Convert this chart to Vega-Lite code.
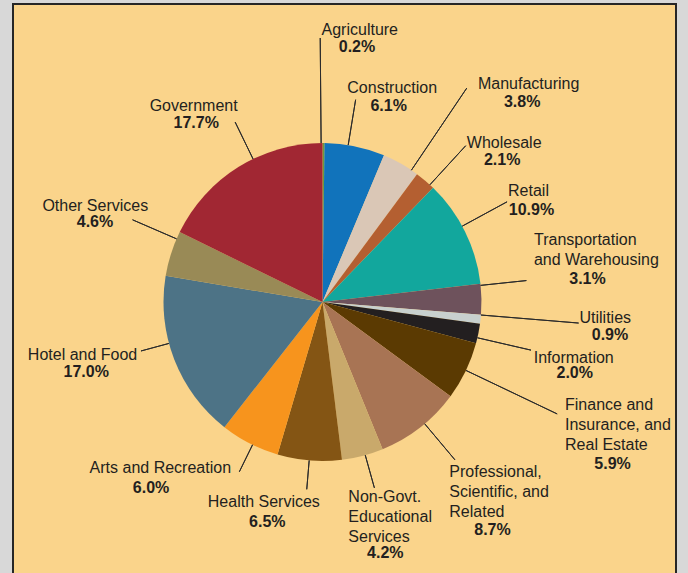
{
  "$schema": "https://vega.github.io/schema/vega-lite/v6.json",
  "width": 663,
  "height": 572,
  "autosize": {"type": "none"},
  "padding": {"left": 13, "top": 4, "right": 12, "bottom": -3},
  "background": "#D8D8D8",
  "view": {"fill": "#FAD48B", "stroke": "#262626", "strokeWidth": 2},
  "config": {
    "view": {"fill": "#FAD48B", "stroke": "#262626", "strokeWidth": 2},
    "text": {"font": "Liberation Sans", "fontSize": 16, "color": "#231F20", "baseline": "alphabetic", "lineBreak": "\n", "lineHeight": 20}
  },
  "data": {
    "values": [
      {"idx": 1, "sector": "Agriculture", "value": 0.2},
      {"idx": 2, "sector": "Construction", "value": 6.1},
      {"idx": 3, "sector": "Manufacturing", "value": 3.8},
      {"idx": 4, "sector": "Wholesale", "value": 2.1},
      {"idx": 5, "sector": "Retail", "value": 10.9},
      {"idx": 6, "sector": "Transportation\nand Warehousing", "value": 3.1},
      {"idx": 7, "sector": "Utilities", "value": 0.9},
      {"idx": 8, "sector": "Information", "value": 2.0},
      {"idx": 9, "sector": "Finance and\nInsurance, and\nReal Estate", "value": 5.9},
      {"idx": 10, "sector": "Professional,\nScientific, and\nRelated", "value": 8.7},
      {"idx": 11, "sector": "Non-Govt.\nEducational\nServices", "value": 4.2},
      {"idx": 12, "sector": "Health Services", "value": 6.5},
      {"idx": 13, "sector": "Arts and Recreation", "value": 6.0},
      {"idx": 14, "sector": "Hotel and Food", "value": 17.0},
      {"idx": 15, "sector": "Other Services", "value": 4.6},
      {"idx": 16, "sector": "Government", "value": 17.7}
    ]
  },
  "transform": [
    {"window": [{"op": "sum", "field": "value", "as": "cum"}], "sort": [{"field": "idx", "order": "ascending"}], "frame": [null, 0]},
    {"calculate": "datum.cum - datum.value / 2", "as": "mid"},
    {"calculate": "format(datum.value, '.1f') + '%'", "as": "pct"}
  ],
  "layer": [
    {
      "mark": {"type": "arc", "x": 309.5, "y": 298, "radius": 159, "stroke": null},
      "encoding": {
        "theta": {"field": "value", "type": "quantitative", "stack": true},
        "order": {"field": "idx", "type": "quantitative"},
        "color": {
          "field": "sector", "type": "nominal", "legend": null,
          "scale": {
            "domain": ["Agriculture", "Construction", "Manufacturing", "Wholesale", "Retail", "Transportation\nand Warehousing", "Utilities", "Information", "Finance and\nInsurance, and\nReal Estate", "Professional,\nScientific, and\nRelated", "Non-Govt.\nEducational\nServices", "Health Services", "Arts and Recreation", "Hotel and Food", "Other Services", "Government"],
            "range": ["#6E9A3C", "#1173BB", "#DAC7B6", "#B45F31", "#12A79D", "#6E525C", "#C8D0CE", "#231F20", "#5B3A02", "#A87454", "#C9A96B", "#845514", "#F7941D", "#4D7386", "#998A56", "#A12733"]
          }
        }
      }
    },
    {"transform": [{"filter": "datum.idx === 1"}], "layer": [
      {"mark": {"type": "arc", "x": 309.5, "y": 298, "radius": 264, "radius2": 159, "thetaOffset": -0.015, "theta2Offset": -0.015, "filled": false, "stroke": "#2B2B2B", "strokeWidth": 1}, "encoding": {"theta": {"field": "mid", "type": "quantitative", "stack": false}, "theta2": {"field": "mid"}}},
      {"mark": {"type": "text", "x": 309.5, "y": 298, "radius": 264, "align": "center", "dx": 35.6, "dy": -2.8}, "encoding": {"theta": {"field": "mid", "type": "quantitative", "stack": false}, "text": {"field": "sector"}}},
      {"mark": {"type": "text", "x": 309.5, "y": 298, "radius": 264, "align": "center", "dx": 32.8, "dy": 14.0, "fontWeight": "bold"}, "encoding": {"theta": {"field": "mid", "type": "quantitative", "stack": false}, "text": {"field": "pct"}}}
    ]},
    {"transform": [{"filter": "datum.idx === 2"}], "layer": [
      {"mark": {"type": "arc", "x": 309.5, "y": 298, "radius": 205, "radius2": 159, "thetaOffset": -0.0425, "theta2Offset": -0.0425, "filled": false, "stroke": "#2B2B2B", "strokeWidth": 1}, "encoding": {"theta": {"field": "mid", "type": "quantitative", "stack": false}, "theta2": {"field": "mid"}}},
      {"mark": {"type": "text", "x": 309.5, "y": 298, "radius": 205, "align": "center", "dx": 28.0, "dy": -8.3}, "encoding": {"theta": {"field": "mid", "type": "quantitative", "stack": false}, "text": {"field": "sector"}}},
      {"mark": {"type": "text", "x": 309.5, "y": 298, "radius": 205, "align": "center", "dx": 24.5, "dy": 9.4, "fontWeight": "bold"}, "encoding": {"theta": {"field": "mid", "type": "quantitative", "stack": false}, "text": {"field": "pct"}}}
    ]},
    {"transform": [{"filter": "datum.idx === 3"}], "layer": [
      {"mark": {"type": "arc", "x": 309.5, "y": 298, "radius": 258, "radius2": 159, "thetaOffset": 0.0766, "theta2Offset": 0.0766, "filled": false, "stroke": "#2B2B2B", "strokeWidth": 1}, "encoding": {"theta": {"field": "mid", "type": "quantitative", "stack": false}, "theta2": {"field": "mid"}}},
      {"mark": {"type": "text", "x": 309.5, "y": 298, "radius": 258, "align": "center", "dx": 78.7, "dy": 11.6}, "encoding": {"theta": {"field": "mid", "type": "quantitative", "stack": false}, "text": {"field": "sector"}}},
      {"mark": {"type": "text", "x": 309.5, "y": 298, "radius": 258, "align": "center", "dx": 72.2, "dy": 29.0, "fontWeight": "bold"}, "encoding": {"theta": {"field": "mid", "type": "quantitative", "stack": false}, "text": {"field": "pct"}}}
    ]},
    {"transform": [{"filter": "datum.idx === 4"}], "layer": [
      {"mark": {"type": "arc", "x": 309.5, "y": 298, "radius": 212, "radius2": 159, "thetaOffset": 0.0391, "theta2Offset": 0.0391, "filled": false, "stroke": "#2B2B2B", "strokeWidth": 1}, "encoding": {"theta": {"field": "mid", "type": "quantitative", "stack": false}, "theta2": {"field": "mid"}}},
      {"mark": {"type": "text", "x": 309.5, "y": 298, "radius": 212, "align": "center", "dx": 44.7, "dy": 7.5}, "encoding": {"theta": {"field": "mid", "type": "quantitative", "stack": false}, "text": {"field": "sector"}}},
      {"mark": {"type": "text", "x": 309.5, "y": 298, "radius": 212, "align": "center", "dx": 42.7, "dy": 24.8, "fontWeight": "bold"}, "encoding": {"theta": {"field": "mid", "type": "quantitative", "stack": false}, "text": {"field": "pct"}}}
    ]},
    {"transform": [{"filter": "datum.idx === 5"}], "layer": [
      {"mark": {"type": "arc", "x": 309.5, "y": 298, "radius": 210, "radius2": 159, "thetaOffset": -0.0389, "theta2Offset": -0.0389, "filled": false, "stroke": "#2B2B2B", "strokeWidth": 1}, "encoding": {"theta": {"field": "mid", "type": "quantitative", "stack": false}, "theta2": {"field": "mid"}}},
      {"mark": {"type": "text", "x": 309.5, "y": 298, "radius": 210, "align": "center", "dx": 17.7, "dy": -13.1}, "encoding": {"theta": {"field": "mid", "type": "quantitative", "stack": false}, "text": {"field": "sector"}}},
      {"mark": {"type": "text", "x": 309.5, "y": 298, "radius": 210, "align": "center", "dx": 20.7, "dy": 5.9, "fontWeight": "bold"}, "encoding": {"theta": {"field": "mid", "type": "quantitative", "stack": false}, "text": {"field": "pct"}}}
    ]},
    {"transform": [{"filter": "datum.idx === 6"}], "layer": [
      {"mark": {"type": "arc", "x": 309.5, "y": 298, "radius": 205, "radius2": 159, "thetaOffset": -0.0874, "theta2Offset": -0.0874, "filled": false, "stroke": "#2B2B2B", "strokeWidth": 1}, "encoding": {"theta": {"field": "mid", "type": "quantitative", "stack": false}, "theta2": {"field": "mid"}}},
      {"mark": {"type": "text", "x": 309.5, "y": 298, "radius": 205, "align": "left", "dx": 6.5, "dy": -53.4}, "encoding": {"theta": {"field": "mid", "type": "quantitative", "stack": false}, "text": {"field": "sector"}}},
      {"mark": {"type": "text", "x": 309.5, "y": 298, "radius": 205, "align": "center", "dx": 60.0, "dy": -14.4, "fontWeight": "bold"}, "encoding": {"theta": {"field": "mid", "type": "quantitative", "stack": false}, "text": {"field": "pct"}}}
    ]},
    {"transform": [{"filter": "datum.idx === 7"}], "layer": [
      {"mark": {"type": "arc", "x": 309.5, "y": 298, "radius": 257, "radius2": 159, "thetaOffset": -0.0267, "theta2Offset": -0.0267, "filled": false, "stroke": "#2B2B2B", "strokeWidth": 1}, "encoding": {"theta": {"field": "mid", "type": "quantitative", "stack": false}, "theta2": {"field": "mid"}}},
      {"mark": {"type": "text", "x": 309.5, "y": 298, "radius": 257, "align": "center", "dx": 27.3, "dy": -7.2}, "encoding": {"theta": {"field": "mid", "type": "quantitative", "stack": false}, "text": {"field": "sector"}}},
      {"mark": {"type": "text", "x": 309.5, "y": 298, "radius": 257, "align": "center", "dx": 32.0, "dy": 10.1, "fontWeight": "bold"}, "encoding": {"theta": {"field": "mid", "type": "quantitative", "stack": false}, "text": {"field": "pct"}}}
    ]},
    {"transform": [{"filter": "datum.idx === 8"}], "layer": [
      {"mark": {"type": "arc", "x": 309.5, "y": 298, "radius": 214, "radius2": 159, "thetaOffset": 0.0268, "theta2Offset": 0.0268, "filled": false, "stroke": "#2B2B2B", "strokeWidth": 1}, "encoding": {"theta": {"field": "mid", "type": "quantitative", "stack": false}, "theta2": {"field": "mid"}}},
      {"mark": {"type": "text", "x": 309.5, "y": 298, "radius": 214, "align": "center", "dx": 41.5, "dy": 18.2}, "encoding": {"theta": {"field": "mid", "type": "quantitative", "stack": false}, "text": {"field": "sector"}}},
      {"mark": {"type": "text", "x": 309.5, "y": 298, "radius": 214, "align": "center", "dx": 42.5, "dy": 33.8, "fontWeight": "bold"}, "encoding": {"theta": {"field": "mid", "type": "quantitative", "stack": false}, "text": {"field": "pct"}}}
    ]},
    {"transform": [{"filter": "datum.idx === 9"}], "layer": [
      {"mark": {"type": "arc", "x": 309.5, "y": 298, "radius": 260, "radius2": 159, "thetaOffset": -0.004, "theta2Offset": -0.004, "filled": false, "stroke": "#2B2B2B", "strokeWidth": 1}, "encoding": {"theta": {"field": "mid", "type": "quantitative", "stack": false}, "theta2": {"field": "mid"}}},
      {"mark": {"type": "text", "x": 309.5, "y": 298, "radius": 260, "align": "left", "dx": 8.3, "dy": -4.9}, "encoding": {"theta": {"field": "mid", "type": "quantitative", "stack": false}, "text": {"field": "sector"}}},
      {"mark": {"type": "text", "x": 309.5, "y": 298, "radius": 260, "align": "center", "dx": 55.8, "dy": 54.4, "fontWeight": "bold"}, "encoding": {"theta": {"field": "mid", "type": "quantitative", "stack": false}, "text": {"field": "pct"}}}
    ]},
    {"transform": [{"filter": "datum.idx === 10"}], "layer": [
      {"mark": {"type": "arc", "x": 309.5, "y": 298, "radius": 206, "radius2": 159, "thetaOffset": -0.0364, "theta2Offset": -0.0364, "filled": false, "stroke": "#2B2B2B", "strokeWidth": 1}, "encoding": {"theta": {"field": "mid", "type": "quantitative", "stack": false}, "theta2": {"field": "mid"}}},
      {"mark": {"type": "text", "x": 309.5, "y": 298, "radius": 206, "align": "left", "dx": 0.2, "dy": 12.2}, "encoding": {"theta": {"field": "mid", "type": "quantitative", "stack": false}, "text": {"field": "sector"}}},
      {"mark": {"type": "text", "x": 309.5, "y": 298, "radius": 206, "align": "center", "dx": 43.4, "dy": 70.5, "fontWeight": "bold"}, "encoding": {"theta": {"field": "mid", "type": "quantitative", "stack": false}, "text": {"field": "pct"}}}
    ]},
    {"transform": [{"filter": "datum.idx === 11"}], "layer": [
      {"mark": {"type": "arc", "x": 309.5, "y": 298, "radius": 193, "radius2": 159, "thetaOffset": -0.017, "theta2Offset": -0.017, "filled": false, "stroke": "#2B2B2B", "strokeWidth": 1}, "encoding": {"theta": {"field": "mid", "type": "quantitative", "stack": false}, "theta2": {"field": "mid"}}},
      {"mark": {"type": "text", "x": 309.5, "y": 298, "radius": 193, "align": "left", "dx": -22.9, "dy": 12.9}, "encoding": {"theta": {"field": "mid", "type": "quantitative", "stack": false}, "text": {"field": "sector"}}},
      {"mark": {"type": "text", "x": 309.5, "y": 298, "radius": 193, "align": "center", "dx": 14.1, "dy": 69.5, "fontWeight": "bold"}, "encoding": {"theta": {"field": "mid", "type": "quantitative", "stack": false}, "text": {"field": "pct"}}}
    ]},
    {"transform": [{"filter": "datum.idx === 12"}], "layer": [
      {"mark": {"type": "arc", "x": 309.5, "y": 298, "radius": 188, "radius2": 159, "thetaOffset": 0.0019, "theta2Offset": 0.0019, "filled": false, "stroke": "#2B2B2B", "strokeWidth": 1}, "encoding": {"theta": {"field": "mid", "type": "quantitative", "stack": false}, "theta2": {"field": "mid"}}},
      {"mark": {"type": "text", "x": 309.5, "y": 298, "radius": 188, "align": "center", "dx": -43.3, "dy": 17.3}, "encoding": {"theta": {"field": "mid", "type": "quantitative", "stack": false}, "text": {"field": "sector"}}},
      {"mark": {"type": "text", "x": 309.5, "y": 298, "radius": 188, "align": "center", "dx": -39.8, "dy": 37.9, "fontWeight": "bold"}, "encoding": {"theta": {"field": "mid", "type": "quantitative", "stack": false}, "text": {"field": "pct"}}}
    ]},
    {"transform": [{"filter": "datum.idx === 13"}], "layer": [
      {"mark": {"type": "arc", "x": 309.5, "y": 298, "radius": 189, "radius2": 159, "thetaOffset": -0.0203, "theta2Offset": -0.0203, "filled": false, "stroke": "#2B2B2B", "strokeWidth": 1}, "encoding": {"theta": {"field": "mid", "type": "quantitative", "stack": false}, "theta2": {"field": "mid"}}},
      {"mark": {"type": "text", "x": 309.5, "y": 298, "radius": 189, "align": "center", "dx": -75.6, "dy": 2.7}, "encoding": {"theta": {"field": "mid", "type": "quantitative", "stack": false}, "text": {"field": "sector"}}},
      {"mark": {"type": "text", "x": 309.5, "y": 298, "radius": 189, "align": "center", "dx": -84.9, "dy": 22.7, "fontWeight": "bold"}, "encoding": {"theta": {"field": "mid", "type": "quantitative", "stack": false}, "text": {"field": "pct"}}}
    ]},
    {"transform": [{"filter": "datum.idx === 14"}], "layer": [
      {"mark": {"type": "arc", "x": 309.5, "y": 298, "radius": 188, "radius2": 159, "thetaOffset": 0.1067, "theta2Offset": 0.1067, "filled": false, "stroke": "#2B2B2B", "strokeWidth": 1}, "encoding": {"theta": {"field": "mid", "type": "quantitative", "stack": false}, "theta2": {"field": "mid"}}},
      {"mark": {"type": "text", "x": 309.5, "y": 298, "radius": 188, "align": "center", "dx": -64.7, "dy": -10.0}, "encoding": {"theta": {"field": "mid", "type": "quantitative", "stack": false}, "text": {"field": "sector"}}},
      {"mark": {"type": "text", "x": 309.5, "y": 298, "radius": 188, "align": "center", "dx": -61.0, "dy": 6.7, "fontWeight": "bold"}, "encoding": {"theta": {"field": "mid", "type": "quantitative", "stack": false}, "text": {"field": "pct"}}}
    ]},
    {"transform": [{"filter": "datum.idx === 15"}], "layer": [
      {"mark": {"type": "arc", "x": 309.5, "y": 298, "radius": 207, "radius2": 159, "thetaOffset": 0.098, "theta2Offset": 0.098, "filled": false, "stroke": "#2B2B2B", "strokeWidth": 1}, "encoding": {"theta": {"field": "mid", "type": "quantitative", "stack": false}, "theta2": {"field": "mid"}}},
      {"mark": {"type": "text", "x": 309.5, "y": 298, "radius": 207, "align": "center", "dx": -30.1, "dy": -28.1}, "encoding": {"theta": {"field": "mid", "type": "quantitative", "stack": false}, "text": {"field": "sector"}}},
      {"mark": {"type": "text", "x": 309.5, "y": 298, "radius": 207, "align": "center", "dx": -30.4, "dy": -12.1, "fontWeight": "bold"}, "encoding": {"theta": {"field": "mid", "type": "quantitative", "stack": false}, "text": {"field": "pct"}}}
    ]},
    {"transform": [{"filter": "datum.idx === 16"}], "layer": [
      {"mark": {"type": "arc", "x": 309.5, "y": 298, "radius": 200, "radius2": 159, "thetaOffset": 0.1057, "theta2Offset": 0.1057, "filled": false, "stroke": "#2B2B2B", "strokeWidth": 1}, "encoding": {"theta": {"field": "mid", "type": "quantitative", "stack": false}, "theta2": {"field": "mid"}}},
      {"mark": {"type": "text", "x": 309.5, "y": 298, "radius": 200, "align": "center", "dx": -23.0, "dy": -21.1}, "encoding": {"theta": {"field": "mid", "type": "quantitative", "stack": false}, "text": {"field": "sector"}}},
      {"mark": {"type": "text", "x": 309.5, "y": 298, "radius": 200, "align": "center", "dx": -20.4, "dy": -4.6, "fontWeight": "bold"}, "encoding": {"theta": {"field": "mid", "type": "quantitative", "stack": false}, "text": {"field": "pct"}}}
    ]}
  ]
}
